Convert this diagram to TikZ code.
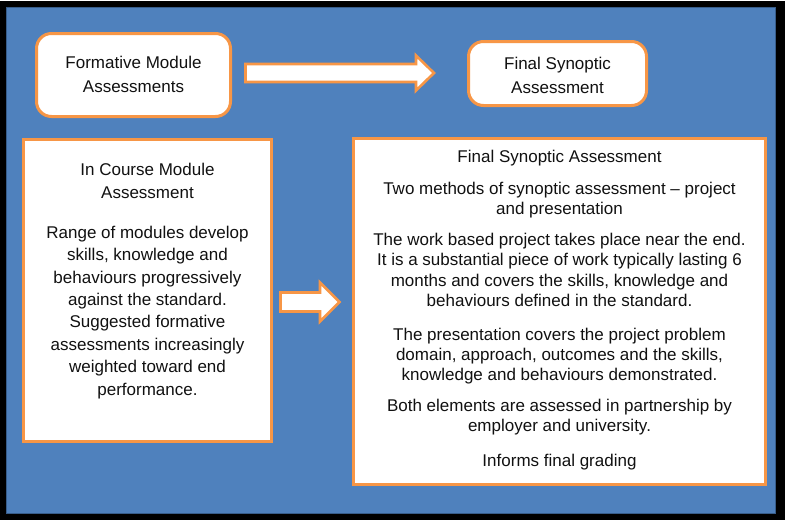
\documentclass[tikz,border=0pt]{standalone}
\usepackage{fontspec}
\setmainfont{Liberation Sans}
\definecolor{bgblue}{HTML}{4F81BD}
\definecolor{edgeblue}{HTML}{385D8A}
\definecolor{accent}{HTML}{F79646}
\definecolor{ink}{HTML}{111111}
\tikzset{
  box/.style={draw=accent, line width=3pt, fill=white},
  roundbox/.style={box, rounded corners=15pt},
  blockarrow/.style={draw=accent, line width=2.6pt, fill=white, line join=miter},
  txt/.style={anchor=base, align=center, inner sep=0pt, text=ink}
}
\begin{document}
\begin{tikzpicture}[x=1pt,y=-1pt]
\useasboundingbox (0,0) rectangle (786,522);
% frame
\fill[white] (0,0) rectangle (786,522);
\fill[black] (0,1) rectangle (785,520);
\draw[fill=bgblue, draw=edgeblue, line width=1.5pt] (6.5,7.5) rectangle (775.5,513.5);

% top boxes (text anchored at the baseline of the last line)
\draw[roundbox] (36.5,33.5) rectangle (230.5,116.5);
\node[txt, font=\fontsize{17}{24}\selectfont] (fma) at (133.5,92) {Formative Module\\Assessments};

\draw[roundbox] (468.5,41.5) rectangle (646.5,105.5);
\node[txt, font=\fontsize{17}{24}\selectfont] (fsa) at (557.5,93) {Final Synoptic\\Assessment};

% lower boxes
\draw[box] (23.5,139) rectangle (271.5,441.5);
\node[txt, font=\fontsize{17}{22.4}\selectfont] (icm) at (147.5,395)
  {In Course Module\\Assessment\\[17.5pt]
   Range of modules develop\\skills, knowledge and\\behaviours progressively\\against the standard.\\Suggested formative\\assessments increasingly\\weighted toward end\\performance.};

\draw[box] (353.5,138.5) rectangle (765.5,484.5);
\node[txt, font=\fontsize{17}{20.2}\selectfont] (fsd) at (559.5,466)
  {Final Synoptic Assessment\\[12pt]
   Two methods of synoptic assessment -- project\\and presentation\\[11pt]
   The work based project takes place near the end.\\It is a substantial piece of work typically lasting 6\\months and covers the skills, knowledge and\\behaviours defined in the standard.\\[13.5pt]
   The presentation covers the project problem\\domain, approach, outcomes and the skills,\\knowledge and behaviours demonstrated.\\[11pt]
   Both elements are assessed in partnership by\\employer and university.\\[14pt]
   Informs final grading};

% block arrows
\coordinate (a1) at (245.5,73);
\draw[blockarrow] (a1) ++(0,-9) -- ++(170.5,0) -- ++(0,-8.5) -- ++(18,17.5) -- ++(-18,17.5) -- ++(0,-8.5) -- ++(-170.5,0) -- cycle;
\coordinate (a2) at (280.5,302);
\draw[blockarrow] (a2) ++(0,-9.5) -- ++(39.5,0) -- ++(0,-10) -- ++(19.5,19.5) -- ++(-19.5,19.5) -- ++(0,-10) -- ++(-39.5,0) -- cycle;
\end{tikzpicture}
\end{document}
